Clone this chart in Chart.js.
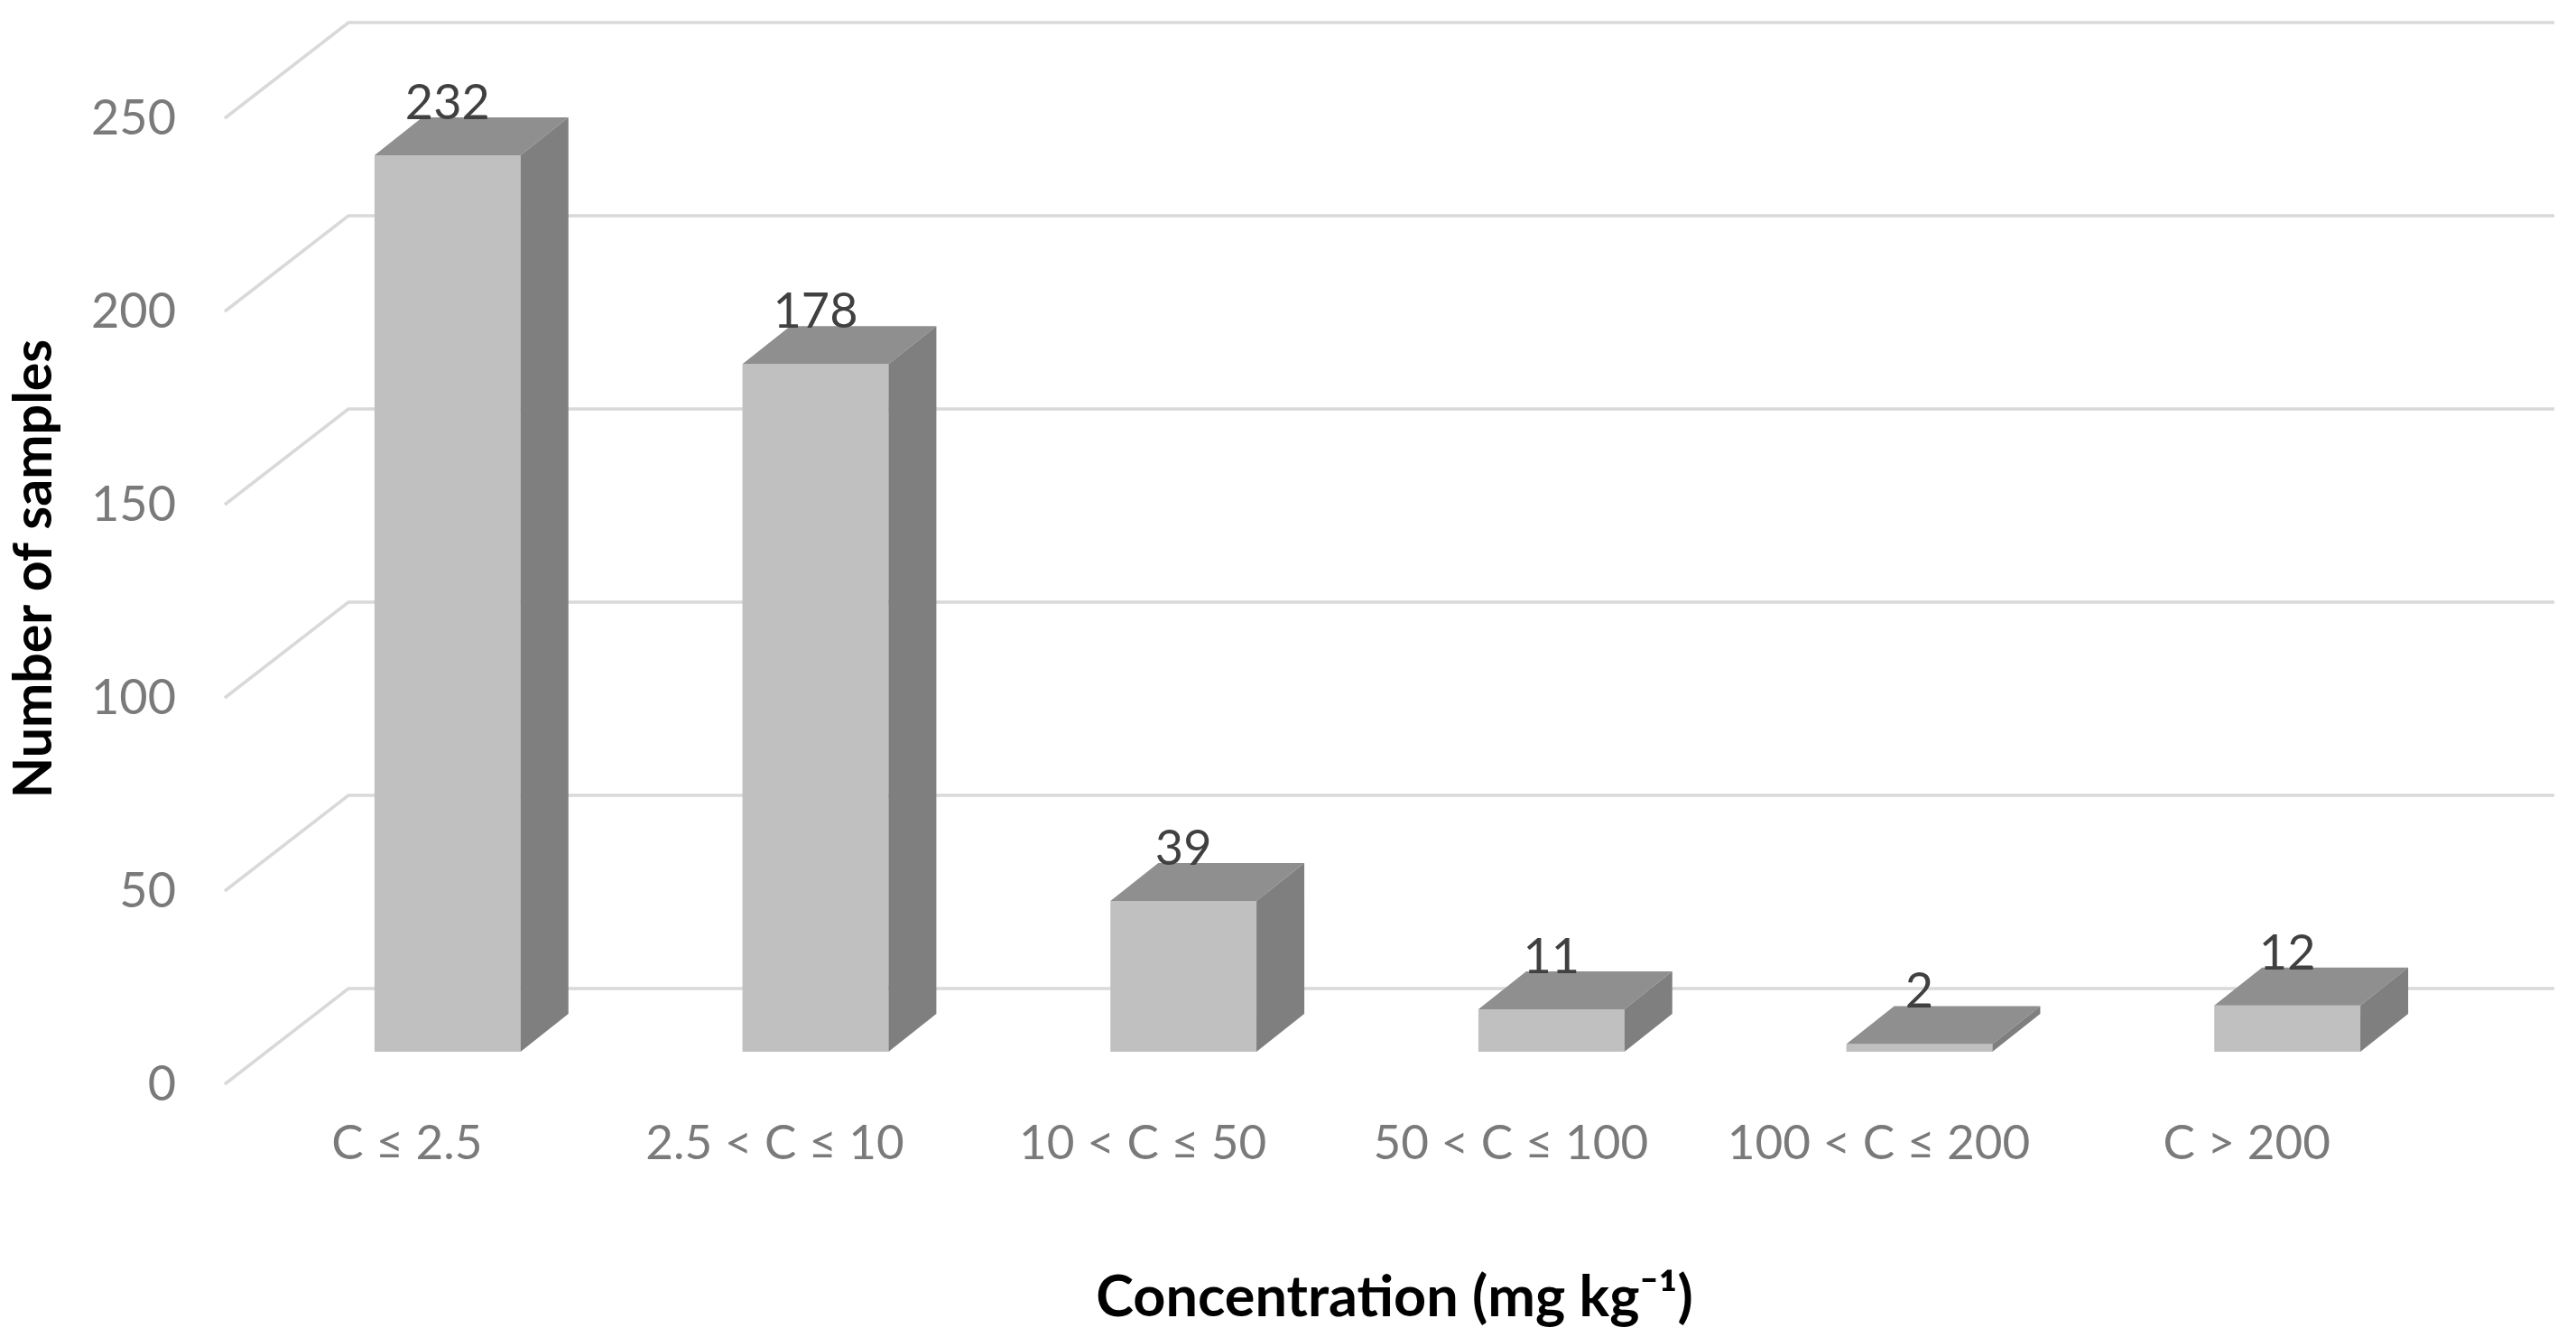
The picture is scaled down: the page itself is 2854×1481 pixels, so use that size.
<!DOCTYPE html>
<html>
<head>
<meta charset="utf-8">
<script src="https://cdn.jsdelivr.net/npm/chart.js@4.4.1/dist/chart.umd.min.js"></script>
<style>
  html, body { margin: 0; padding: 0; background: #ffffff; }
  #wrap { width: 2854px; height: 1481px; position: relative; }
</style>
</head>
<body>
<div id="wrap"><canvas id="c"></canvas></div>
<script>
// ---- data ----
const categories = ["C ≤ 2.5", "2.5 < C ≤ 10", "10 < C ≤ 50", "50 < C ≤ 100", "100 < C ≤ 200", "C > 200"];
const sampleCounts = [232, 178, 39, 11, 2, 12];
const yTickValues = [0, 50, 100, 150, 200, 250];
const yAxisTitle = "Number of samples";
const xAxisTitle = "Concentration (mg kg⁻¹)";

// ---- style ----
const FONT = "Lato, 'Open Sans', 'DejaVu Sans', sans-serif";
const BAR_DEPTH = { dx: 53, dy: -42 };      // 3D depth of each bar
const WALL = { dx: 94, dy: -70, right: 2830 }; // back wall offset relative to bar plane
const FRONT = { dx: -43, dy: 36 };            // front edge offset relative to bar plane
const X_TITLE_SHIFT = 30;

const threeD = {
  id: 'threeD',
  afterLayout(chart) {
    const s = chart.scales.x;
    if (!s._shiftedTitle) {
      const orig = s.drawTitle.bind(s);
      s.drawTitle = function () {
        const ctx = chart.ctx;
        ctx.save();
        ctx.translate(X_TITLE_SHIFT, 0);
        orig();
        ctx.restore();
      };
      s._shiftedTitle = true;
    }
  },
  beforeDatasetsDraw(chart) {
    const ctx = chart.ctx;
    const y = chart.scales.y;
    const leftBar = chart.chartArea.left;
    ctx.save();
    ctx.strokeStyle = '#d9d9d9';
    ctx.lineWidth = 3.5;
    yTickValues.forEach(v => {
      const p = y.getPixelForValue(v);
      const fx = leftBar + FRONT.dx, fy = p + FRONT.dy;
      const bx = leftBar + WALL.dx, by = p + WALL.dy;
      ctx.beginPath();
      ctx.moveTo(fx, fy);
      ctx.lineTo(bx, by);
      ctx.lineTo(WALL.right, by);
      ctx.stroke();
    });
    ctx.restore();
  },
  afterDatasetsDraw(chart) {
    const ctx = chart.ctx;
    const meta = chart.getDatasetMeta(0);
    ctx.save();
    meta.data.forEach((bar, i) => {
      const { x, y, base, width } = bar.getProps(['x', 'y', 'base', 'width'], true);
      const l = x - width / 2, r = x + width / 2;
      const dx = BAR_DEPTH.dx, dy = BAR_DEPTH.dy;
      // top face
      ctx.fillStyle = '#8f8f8f';
      ctx.beginPath();
      ctx.moveTo(l, y);
      ctx.lineTo(l + dx, y + dy);
      ctx.lineTo(r + dx, y + dy);
      ctx.lineTo(r, y);
      ctx.closePath();
      ctx.fill();
      // side face
      ctx.fillStyle = '#7f7f7f';
      ctx.beginPath();
      ctx.moveTo(r, y);
      ctx.lineTo(r + dx, y + dy);
      ctx.lineTo(r + dx, base + dy);
      ctx.lineTo(r, base);
      ctx.closePath();
      ctx.fill();
      // value label
      ctx.fillStyle = '#404040';
      ctx.font = "54px " + FONT;
      ctx.textAlign = 'center';
      ctx.textBaseline = 'alphabetic';
      ctx.fillText(String(sampleCounts[i]), x, y + dy + 2);
    });
    ctx.restore();
  }
};

new Chart(document.getElementById('c'), {
  type: 'bar',
  data: {
    labels: categories,
    datasets: [{
      data: sampleCounts,
      backgroundColor: '#c0c0c0',
      borderWidth: 0,
      categoryPercentage: 1.0,
      barPercentage: 0.397
    }]
  },
  options: {
    responsive: true,
    maintainAspectRatio: false,
    animation: false,
    devicePixelRatio: 1,
    layout: { padding: { top: 95, right: 116, bottom: 0, left: 0 } },
    plugins: { legend: { display: false }, tooltip: { enabled: false } },
    scales: {
      x: {
        type: 'category',
        grid: { display: false, drawTicks: false },
        border: { display: false },
        ticks: {
          color: '#7a7a7a',
          font: { family: FONT, size: 53 },
          padding: 70,
          labelOffset: -45,
          maxRotation: 0,
          autoSkip: false
        },
        title: {
          display: true,
          text: xAxisTitle,
          color: '#000000',
          font: { family: FONT, size: 63, weight: 'bold' },
          padding: { top: 0, bottom: 6 }
        },
        afterFit(scale) { scale.height = 316; scale.paddingLeft = 0; scale.paddingRight = 0; }
      },
      y: {
        min: 0,
        max: 250,
        afterBuildTicks(scale) { scale.ticks = yTickValues.map(v => ({ value: v })); },
        grid: { display: false, drawTicks: false },
        border: { display: false },
        ticks: {
          color: '#7a7a7a',
          font: { family: FONT, size: 54 },
          padding: 97,
          labelOffset: 37
        },
        title: {
          display: true,
          text: yAxisTitle,
          color: '#000000',
          font: { family: FONT, size: 59, weight: 'bold' },
          padding: { top: 3, bottom: 0 }
        },
        afterFit(scale) { scale.width = 292; scale.paddingTop = 0; scale.paddingBottom = 0; }
      }
    }
  },
  plugins: [threeD]
});
</script>
</body>
</html>
